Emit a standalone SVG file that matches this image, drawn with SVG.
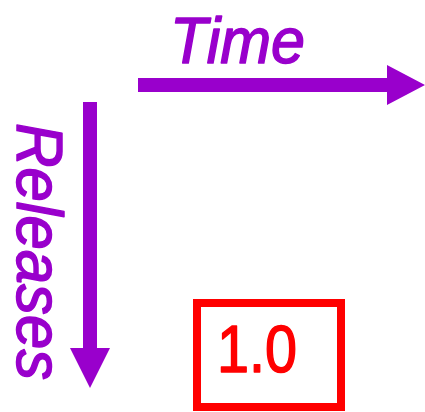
<svg xmlns="http://www.w3.org/2000/svg" width="425" height="412" viewBox="0 0 425 412">
<style>
.lbl{font-family:"Liberation Sans",Arial,sans-serif;font-style:italic;font-size:64px;fill:#9900CC;stroke:#9900CC;stroke-width:1.5;stroke-linejoin:round}
.arrow{fill:#9900CC}
</style>
<rect width="425" height="412" fill="#ffffff"/>
<g id="connectors">
<polygon class="arrow" points="138,78 387,78 387,65 425,85 387,105 387,92 138,92"/>
<polygon class="arrow" points="83,102 97,102 97,348 110,348 90,388 70,348 83,348"/>
</g>
<g id="time-label">
<text class="lbl" x="170" y="63" textLength="135" lengthAdjust="spacingAndGlyphs">Time</text>
</g>
<g id="releases-label">
<text class="lbl" transform="translate(17,123) rotate(90)" x="0" y="0" textLength="257" lengthAdjust="spacingAndGlyphs">Releases</text>
</g>
<g id="release-1-0">
<rect x="197" y="303" width="144" height="104" fill="none" stroke="#FF0000" stroke-width="8"/>
<text x="217" y="372" textLength="80" lengthAdjust="spacingAndGlyphs" style="font-family:'Liberation Sans',Arial,sans-serif;font-size:66px;fill:#FF0000;stroke:#FF0000;stroke-width:1.5;stroke-linejoin:round">1.0</text>
</g>
</svg>
